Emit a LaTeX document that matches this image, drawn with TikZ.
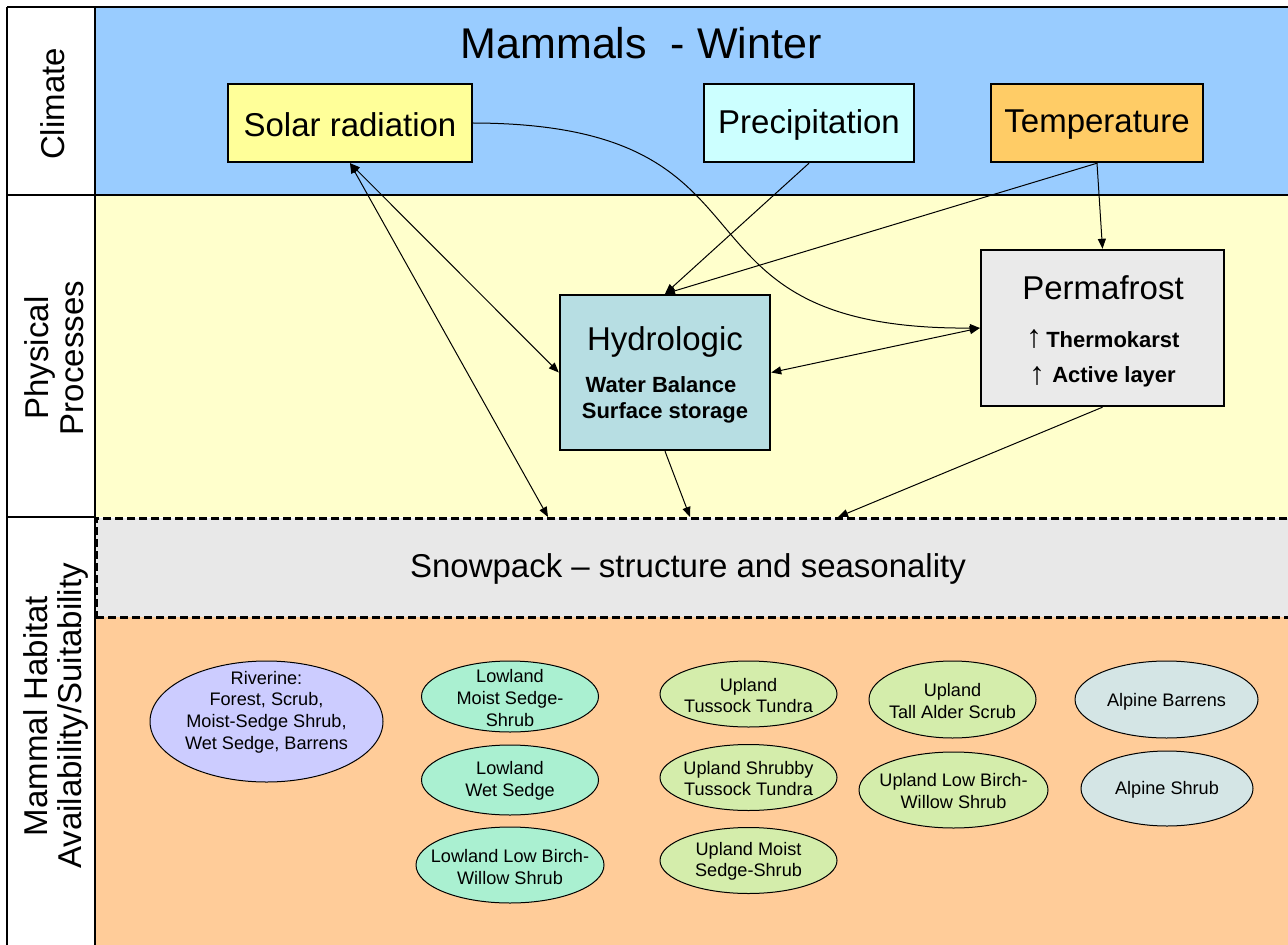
\documentclass[tikz,border=0pt]{standalone}
\usepackage{fontspec}
\setmainfont{Liberation Sans}
\usetikzlibrary{arrows.meta,shapes.geometric}

\definecolor{climatebg}{HTML}{99CCFF}
\definecolor{physbg}{HTML}{FFFFCC}
\definecolor{snowbg}{HTML}{E8E8E8}
\definecolor{habbg}{HTML}{FFCC99}
\definecolor{solarfill}{HTML}{FFFF99}
\definecolor{precipfill}{HTML}{CCFFFF}
\definecolor{tempfill}{HTML}{FFCC66}
\definecolor{permafill}{HTML}{EAEAEA}
\definecolor{hydrofill}{HTML}{B7DEE3}
\definecolor{riverfill}{HTML}{CCCCFF}
\definecolor{lowfill}{HTML}{AAF0D1}
\definecolor{upfill}{HTML}{D4EDAB}
\definecolor{alpfill}{HTML}{D4E5E5}

\begin{document}
\begin{tikzpicture}[x=0.75pt,y=-0.75pt,
  font=\fontsize{24.75}{26}\selectfont,
  tip/.style={-{Triangle[length=7.5pt,width=6pt]}},
  twotip/.style={{Triangle[length=7.5pt,width=6pt]}-{Triangle[length=7.5pt,width=6pt]}},
  conn/.style={draw,line width=0.75pt},
  box/.style={draw,line width=1.8pt,inner sep=0pt,align=center},
  hab/.style={ellipse,draw,line width=0.75pt,inner sep=0pt},
  habtext/.style={font=\fontsize{13.6}{16.2}\selectfont,align=center,inner sep=0pt},
  boldtext/.style={font=\fontsize{16.5}{20}\selectfont\bfseries,inner sep=0pt},
  uparrow/.style={font=\fontsize{24}{24}\selectfont,inner sep=0pt},
  bandlabel/.style={rotate=90,align=center,inner sep=0pt,font=\fontsize{24.75}{26}\selectfont},
  frame/.style={line width=0.9pt}]

\useasboundingbox (0,0) rectangle (1288,945);

% band backgrounds
\fill[climatebg] (95,7) rectangle (1295,195);
\fill[physbg] (95,195) rectangle (1295,517);
\fill[habbg] (95,616) rectangle (1295,950);
\fill[white] (7,7) rectangle (95,950);

% snowpack band
\node[draw,dash pattern=on 6pt off 3pt,line width=2.2pt,fill=snowbg,
      minimum width=900pt,minimum height=74.25pt,inner sep=0pt,anchor=north west]
      (snow) at (95,517) {};
\node (snowtext) at (688,569) {Snowpack -- structure and seasonality};

% frame and band dividers
\draw[frame] (7,7) -- (1295,7);
\draw[frame] (7,7) -- (7,950);
\draw[frame] (95,7) -- (95,616);
\draw[line width=1.5pt] (95,616) -- (95,950);
\draw[frame] (7,195) -- (1295,195);
\draw[frame] (7,517) -- (95,517);

% band labels
\node[bandlabel] (lclimate) at (53,104) {Climate};
\node[bandlabel] (lphys) at (54,358) {Physical\\Processes};
\node[bandlabel] (lhab) at (56,716) {Mammal Habitat\\Availability/Suitability};

% title
\node (title) at (641,43) {\fontsize{32.25}{36}\selectfont Mammals~~- Winter};

% climate drivers
\node[box,fill=solarfill,minimum width=183pt,minimum height=58.5pt] (solar) at (350,123) {};
\node (solart) at (350,125) {Solar radiation};
\node[box,fill=precipfill,minimum width=157.5pt,minimum height=58.5pt] (precip) at (809,123) {};
\node (precipt) at (809,125) {Precipitation};
\node[box,fill=tempfill,minimum width=159pt,minimum height=58.5pt] (temp) at (1097,123) {};
\node (tempt) at (1097,125) {Temperature};

% physical processes
\node[box,fill=hydrofill,minimum width=157.5pt,minimum height=116.25pt] (hydro) at (665,372.5) {};
\node (hydrotitle) at (665,342) {Hydrologic};
\node[boldtext] (hydro1) at (661,385) {Water Balance};
\node[boldtext] (hydro2) at (665,413) {Surface storage};

\node[box,fill=permafill,minimum width=182.25pt,minimum height=117pt] (perma) at (1102.5,328) {};
\node (permatitle) at (1103,288) {Permafrost};
\node[uparrow] (ua1) at (1034,339) {↑};
\node[boldtext,anchor=west] (perma1) at (1046,340) {Thermokarst};
\node[uparrow] (ua2) at (1037,376) {↑};
\node[boldtext,anchor=west] (perma2) at (1052,377) {Active layer};

% arrow ends on the snowpack band
\coordinate (s1) at (548,517);
\coordinate (s2) at (690,517);
\coordinate (s3) at (838,517);

% connectors
\draw[conn,twotip] (solar.south) -- (hydro.west);
\draw[conn,twotip] (solar.south) -- (s1);
\draw[conn,tip] (solar.east) .. controls (800,124) and (650,330) .. (perma.west);
\draw[conn,tip] (precip.south) -- (hydro.north);
\draw[conn,tip] (temp.south) -- (hydro.north);
\draw[conn,tip] (temp.south) -- (perma.north);
\draw[conn,twotip] (perma.west) -- (hydro.east);
\draw[conn,tip] (hydro.south) -- (s2);
\draw[conn,tip] (perma.south) -- (s3);

% habitat types
\node[hab,fill=riverfill,minimum width=174.75pt,minimum height=90.75pt] (river) at (266.5,721.5) {};
\node[habtext] (rivert) at (266.5,712) {Riverine:\\Forest, Scrub,\\Moist-Sedge Shrub,\\Wet Sedge, Barrens};

\node[hab,fill=lowfill,minimum width=132.75pt,minimum height=53.25pt] (low1) at (510,696.5) {};
\node[habtext] (low1t) at (510,698) {Lowland\\Moist Sedge-\\Shrub};
\node[hab,fill=lowfill,minimum width=132.75pt,minimum height=52.5pt] (low2) at (510,780) {};
\node[habtext] (low2t) at (510,781) {Lowland\\Wet Sedge};
\node[hab,fill=lowfill,minimum width=141pt,minimum height=57pt] (low3) at (510,865) {};
\node[habtext] (low3t) at (510,867) {Lowland Low Birch-\\Willow Shrub};

\node[hab,fill=upfill,minimum width=132.75pt,minimum height=49.5pt] (up1) at (748.5,694) {};
\node[habtext] (up1t) at (748.5,695.5) {Upland\\Tussock Tundra};
\node[hab,fill=upfill,minimum width=132.75pt,minimum height=49.5pt] (up2) at (748.5,777.5) {};
\node[habtext] (up2t) at (748.5,778.5) {Upland Shrubby\\Tussock Tundra};
\node[hab,fill=upfill,minimum width=132.75pt,minimum height=49.5pt] (up3) at (748.5,860.5) {};
\node[habtext] (up3t) at (748.5,861.5) {Upland Moist\\Sedge-Shrub};

\node[hab,fill=upfill,minimum width=125.25pt,minimum height=57.75pt] (up4) at (952.5,699.5) {};
\node[habtext] (up4t) at (952.5,701) {Upland\\Tall Alder Scrub};
\node[hab,fill=upfill,minimum width=141.75pt,minimum height=57pt] (up5) at (953.5,790) {};
\node[habtext] (up5t) at (953.5,791) {Upland Low Birch-\\Willow Shrub};

\node[hab,fill=alpfill,minimum width=137.25pt,minimum height=57.75pt] (alp1) at (1166.5,699.5) {};
\node[habtext] (alp1t) at (1166.5,702) {Alpine Barrens};
\node[hab,fill=alpfill,minimum width=129pt,minimum height=56.25pt] (alp2) at (1167,788.5) {};
\node[habtext] (alp2t) at (1167,790) {Alpine Shrub};

\end{tikzpicture}
\end{document}
